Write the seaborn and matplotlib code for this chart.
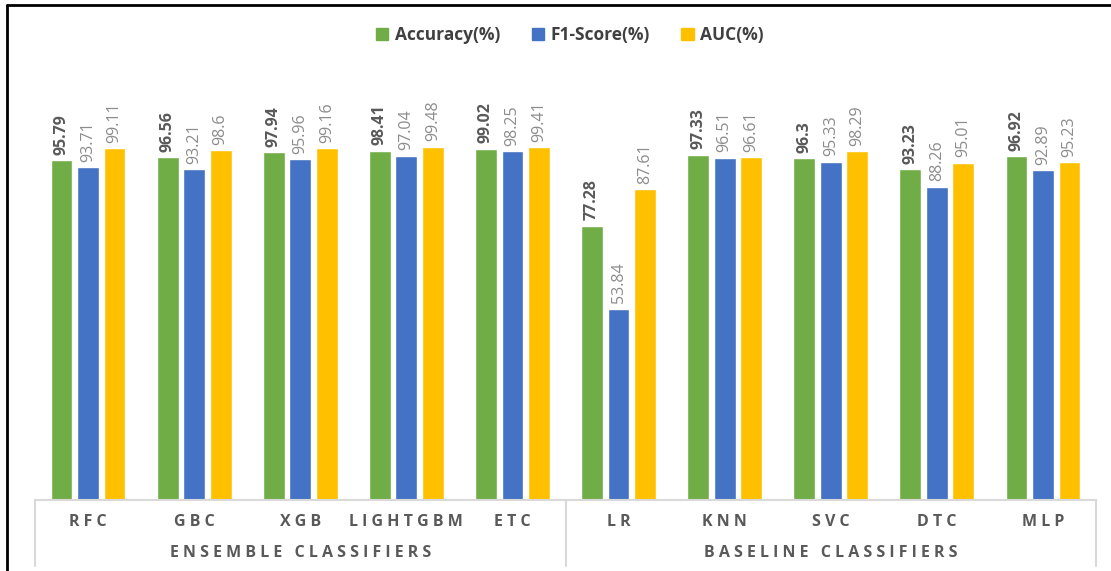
import numpy as np
import pandas as pd
import matplotlib.pyplot as plt
import seaborn as sns
from matplotlib.lines import Line2D
from matplotlib.patches import Patch

sns.set_theme(style="white")
plt.rcParams['font.family'] = ['Open Sans', 'DejaVu Sans']

# data
models = ['RFC', 'GBC', 'XGB', 'LIGHTGBM', 'ETC', 'LR', 'KNN', 'SVC', 'DTC', 'MLP']
groups = ['ENSEMBLE CLASSIFIERS', 'BASELINE CLASSIFIERS']
accuracy = [95.79, 96.56, 97.94, 98.41, 99.02, 77.28, 97.33, 96.3, 93.23, 96.92]
f1_score = [93.71, 93.21, 95.96, 97.04, 98.25, 53.84, 96.51, 95.33, 88.26, 92.89]
auc = [99.11, 98.6, 99.16, 99.48, 99.41, 87.61, 96.61, 98.29, 95.01, 95.23]
acc_labels = ['95.79', '96.56', '97.94', '98.41', '99.02', '77.28', '97.33', '96.3', '93.23', '96.92']
f1_labels = ['93.71', '93.21', '95.96', '97.04', '98.25', '53.84', '96.51', '95.33', '88.26', '92.89']
auc_labels = ['99.11', '98.6', '99.16', '99.48', '99.41', '87.61', '96.61', '98.29', '95.01', '95.23']
series = ['Accuracy(%)', 'F1-Score(%)', 'AUC(%)']
colors = ['#70AD47', '#4472C4', '#FFC000']

df = pd.DataFrame({'model': models * 3,
                   'metric': np.repeat(series, len(models)),
                   'value': accuracy + f1_score + auc})

fig = plt.figure(figsize=(11.11, 5.71), dpi=100)
ax = fig.add_axes([35 / 1111, 71 / 571, (1096 - 35) / 1111, 440 / 571])
sns.barplot(data=df, x='model', y='value', hue='metric', palette=colors, saturation=1,
            width=0.75, gap=0.18, ax=ax, legend=False, errorbar=None)
ax.set_ylim(0, 124)
ax.set_xlim(-0.5, len(models) - 0.5)

# data labels
label_sets = [acc_labels, f1_labels, auc_labels]
for cont, labs, i in zip(ax.containers, label_sets, range(3)):
    ax.bar_label(cont, labels=labs, rotation=90, padding=4, fontsize=11.5,
                 color='#595959' if i == 0 else '#8C8C8C',
                 fontweight='bold' if i == 0 else 'normal')

# axes styling
for s in ['top', 'right', 'left']:
    ax.spines[s].set_visible(False)
ax.spines['bottom'].set_color('#D9D9D9')
ax.spines['bottom'].set_linewidth(1.5)
ax.set_yticks([])
ax.set_xticks(range(len(models)))
ax.set_xticklabels([' '.join(m) for m in models], fontsize=11.5, fontweight='bold',
                   color='#595959')
ax.tick_params(axis='x', length=0, pad=10)
ax.set_xlabel('')
ax.set_ylabel('')

# group separators and labels
trans = ax.get_xaxis_transform()
for xs in [-0.5, 4.5, 9.5]:
    ax.add_line(Line2D([xs, xs], [0, -66 / 440], transform=trans, color='#D9D9D9',
                       lw=1.5, clip_on=False))
for gi, g in enumerate(groups):
    ax.text(2 + gi * 5, -53 / 440, ' '.join(g), transform=trans, ha='center',
            va='center', fontsize=11.5, fontweight='bold', color='#595959')

# legend
handles = [Patch(color=c) for c in colors]
leg = fig.legend(handles, series, loc='center', bbox_to_anchor=(570 / 1111, 1 - 35 / 571),
                 ncol=3, frameon=False, fontsize=12.5, handlelength=0.7, handleheight=0.7,
                 columnspacing=1.8, handletextpad=0.4)
for t in leg.get_texts():
    t.set_color('#404040')
    t.set_fontweight('bold')

# outer frame
fig.add_artist(Line2D([7 / 1111, 7 / 1111], [0, 1 - 5 / 571], color='black', lw=2))
fig.add_artist(Line2D([7 / 1111, 1], [1 - 5 / 571, 1 - 5 / 571], color='black', lw=2))

fig.savefig('out.png', dpi=100)
